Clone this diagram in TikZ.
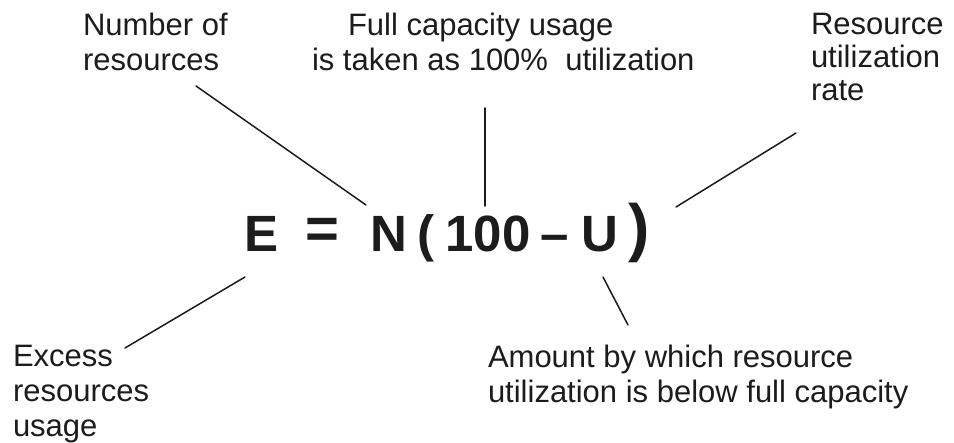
\documentclass[tikz,border=0pt]{standalone}
\usepackage{fontspec}
\setmainfont{Liberation Sans}
\usetikzlibrary{positioning}
\definecolor{dkink}{HTML}{1C1C1C}

\begin{document}
\begin{tikzpicture}[
  x=1pt,y=-1pt,
  every node/.style={inner sep=0pt,outer sep=0pt,text=dkink},
  note/.style={font=\fontsize{31}{35}\selectfont,align=left,anchor=north west},
  eqsym/.style={font=\fontsize{51}{51}\selectfont\bfseries,anchor=base},
  lead/.style={line width=1.5pt,draw=dkink,line cap=round}
]
\useasboundingbox[fill=white] (0,0) rectangle (954,443);
% labels
\node[note] (numres) at (83,13) {Number of\\resources};
\node[note] (fullcap) at (312,13) {\hspace*{36pt}Full capacity usage\\is taken as 100\%\ \ utilization};
\node[note,font=\fontsize{31}{33}\selectfont] (userate) at (811,13) {Resource\\utilization\\rate};
\node[note] (excess) at (13,345) {Excess\\resources\\usage};
\node[note] (amount) at (488,345) {Amount by which resource\\utilization is below full capacity};
% formula
\node[eqsym] (symE) at (262,252) {E};
\node[eqsym,font=\fontsize{58}{58}\selectfont\bfseries] (symEq) at (322,249) {=};
\node[eqsym] (symN) at (389,252) {N};
\node[eqsym] (lpar) at (426,252) {(};
\node[eqsym] (hundred) at (488,252) {100};
\node[eqsym] (minus) at (555,252) {--};
\node[eqsym] (symU) at (600,252) {U};
\node[eqsym,font=\fontsize{64}{64}\selectfont\bfseries] (rpar) at (639,250) {)};
% leader ends
\coordinate (numres-a) at (196,86);
\coordinate (numres-b) at (366,205);
\coordinate (fullcap-a) at (485,108);
\coordinate (fullcap-b) at (485,206);
\coordinate (userate-a) at (796,133);
\coordinate (userate-b) at (676,207);
\coordinate (excess-a) at (245,277);
\coordinate (excess-b) at (125,348);
\coordinate (amount-a) at (603,277);
\coordinate (amount-b) at (628,325);
\draw[lead] (numres-a) -- (numres-b);
\draw[lead] (fullcap-a) -- (fullcap-b);
\draw[lead] (userate-a) -- (userate-b);
\draw[lead] (excess-a) -- (excess-b);
\draw[lead] (amount-a) -- (amount-b);
\end{tikzpicture}
\end{document}
